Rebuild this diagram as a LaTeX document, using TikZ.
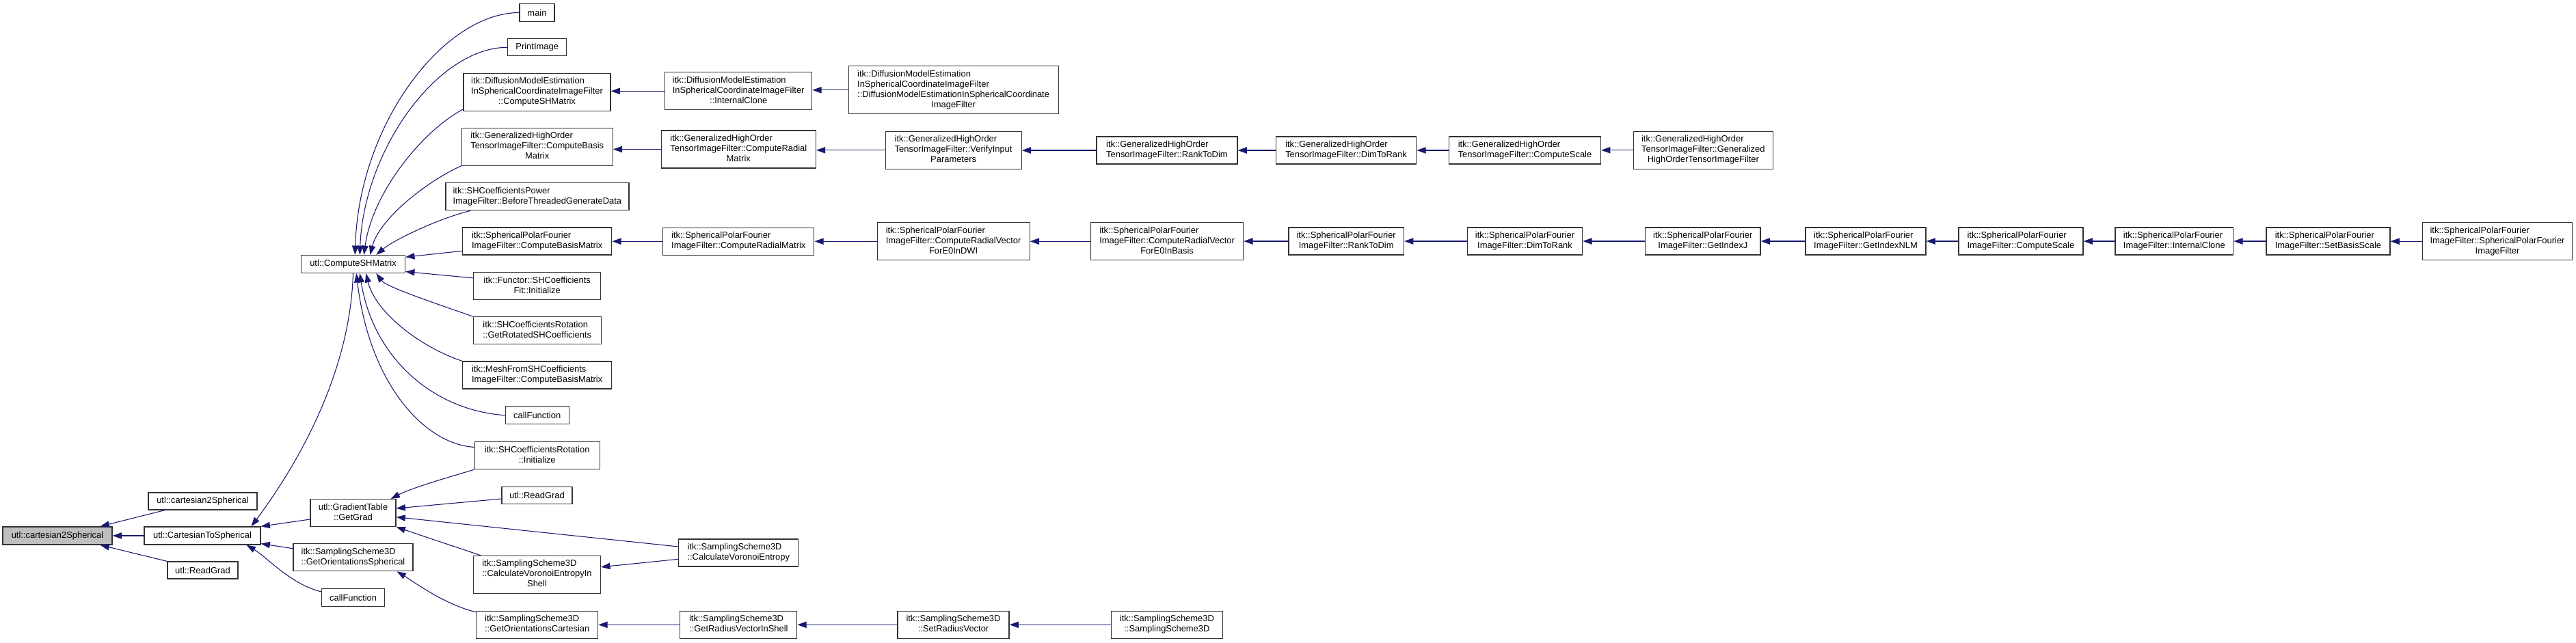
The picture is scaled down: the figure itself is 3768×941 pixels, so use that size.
\documentclass[tikz,border=0pt]{standalone}
\usepackage{fontspec}
\setmainfont{Liberation Sans}
\usetikzlibrary{arrows.meta,calc}
\definecolor{edgec}{RGB}{25,25,112}
\definecolor{rootfill}{RGB}{191,191,191}
\newcommand{\dlab}[2]{\begin{tabular}{@{}l@{}}#1\\\multicolumn{1}{@{}c@{}}{#2}\end{tabular}}
\begin{document}
\begin{tikzpicture}[x=0.75pt,y=-0.75pt,
 fn/.style={draw=black!80, line width=0.9pt, fill=white, inner sep=0pt, font=\fontsize{9.7}{11.25}\selectfont, text=black},
 bw/.style={minimum width=#1*0.75pt},
 bh/.style={minimum height=#1*0.75pt},
 call/.style={draw=edgec, line width=0.8pt, {Triangle[length=10pt,width=7pt]}-}]
\useasboundingbox (0,0) rectangle (3768,941);
% column 0-2
\node[fn,bw=160,bh=26,fill=rootfill] (root) at (84,784) {utl::cartesian2Spherical};
\node[fn,bw=159,bh=25] (c2s2) at (296.5,733.5) {utl::cartesian2Spherical};
\node[fn,bw=170,bh=26] (c2sph) at (296,784) {utl::CartesianToSpherical};
\node[fn,bw=103,bh=25] (rg1) at (296.5,834.5) {utl::ReadGrad};
\node[fn,bw=152,bh=26] (cs) at (516.5,386.5) {utl::ComputeSHMatrix};
\node[fn,bw=125,bh=40] (gg) at (516.5,750.7) {\dlab{utl::GradientTable}{::GetGrad}};
\node[fn,bw=175,bh=40] (gos) at (516.5,815.7) {\dlab{itk::SamplingScheme3D}{::GetOrientationsSpherical}};
\node[fn,bw=92,bh=26] (cf1) at (516.6,874.5) {callFunction};
% column 3
\node[fn,bw=51,bh=26] (main) at (785.5,18.5) {main};
\node[fn,bw=86,bh=25] (print) at (785.7,69.3) {PrintImage};
\node[fn,bw=215,bh=55] (dmecs) at (785.5,134.8) {\dlab{itk::DiffusionModelEstimation\\InSphericalCoordinateImageFilter}{::ComputeSHMatrix}};
\node[fn,bw=221,bh=55] (ghob) at (785.7,214.7) {\dlab{itk::GeneralizedHighOrder\\TensorImageFilter::ComputeBasis}{Matrix}};
\node[fn,bw=268,bh=40] (shp) at (785.9,287.8) {\dlab{itk::SHCoefficientsPower}{ImageFilter::BeforeThreadedGenerateData}};
\node[fn,bw=218,bh=40] (spfb) at (785.7,353) {\dlab{itk::SphericalPolarFourier}{ImageFilter::ComputeBasisMatrix}};
\node[fn,bw=186,bh=40] (fun) at (785.7,418.5) {\dlab{itk::Functor::SHCoefficients}{Fit::Initialize}};
\node[fn,bw=187,bh=40] (rot) at (785.7,483.7) {\dlab{itk::SHCoefficientsRotation}{::GetRotatedSHCoefficients}};
\node[fn,bw=218,bh=40] (mesh) at (785.7,549) {\dlab{itk::MeshFromSHCoefficients}{ImageFilter::ComputeBasisMatrix}};
\node[fn,bw=93,bh=26] (cf2) at (785.7,607.8) {callFunction};
\node[fn,bw=183,bh=40] (sri) at (785.7,666.7) {\dlab{itk::SHCoefficientsRotation}{::Initialize}};
\node[fn,bw=103,bh=25] (rg2) at (785.5,725) {utl::ReadGrad};
\node[fn,bw=186,bh=55] (cvis) at (785.5,840.8) {\dlab{itk::SamplingScheme3D\\::CalculateVoronoiEntropyIn}{Shell}};
\node[fn,bw=178,bh=40] (goc) at (785.7,914.3) {\dlab{itk::SamplingScheme3D}{::GetOrientationsCartesian}};
% column 4
\node[fn,bw=215,bh=55] (dmeic) at (1080.2,133.3) {\dlab{itk::DiffusionModelEstimation\\InSphericalCoordinateImageFilter}{::InternalClone}};
\node[fn,bw=226,bh=55] (ghor) at (1080.3,218.5) {\dlab{itk::GeneralizedHighOrder\\TensorImageFilter::ComputeRadial}{Matrix}};
\node[fn,bw=221,bh=40] (spfr) at (1080.3,353.2) {\dlab{itk::SphericalPolarFourier}{ImageFilter::ComputeRadialMatrix}};
\node[fn,bw=175,bh=40] (cv) at (1080.3,809) {\dlab{itk::SamplingScheme3D}{::CalculateVoronoiEntropy}};
\node[fn,bw=171,bh=40] (grvs) at (1080.3,914.3) {\dlab{itk::SamplingScheme3D}{::GetRadiusVectorInShell}};
% column 5
\node[fn,bw=307,bh=70] (dmector) at (1394.6,131.8) {\dlab{itk::DiffusionModelEstimation\\InSphericalCoordinateImageFilter\\::DiffusionModelEstimationInSphericalCoordinate}{ImageFilter}};
\node[fn,bw=199,bh=55] (vip) at (1394.6,219.8) {\dlab{itk::GeneralizedHighOrder\\TensorImageFilter::VerifyInput}{Parameters}};
\node[fn,bw=223,bh=55] (spfdwi) at (1394.6,353.2) {\dlab{itk::SphericalPolarFourier\\ImageFilter::ComputeRadialVector}{ForE0InDWI}};
\node[fn,bw=163,bh=40] (srv) at (1394.5,914.3) {\dlab{itk::SamplingScheme3D}{::SetRadiusVector}};
% column 6
\node[fn,bw=206,bh=40] (ghortd) at (1706.9,220) {\dlab{itk::GeneralizedHighOrder}{TensorImageFilter::RankToDim}};
\node[fn,bw=223,bh=55] (spfbasis) at (1707.1,353.2) {\dlab{itk::SphericalPolarFourier\\ImageFilter::ComputeRadialVector}{ForE0InBasis}};
\node[fn,bw=163,bh=40] (ss3d) at (1706.9,914.3) {\dlab{itk::SamplingScheme3D}{::SamplingScheme3D}};
% column 7
\node[fn,bw=205.5,bh=40] (ghodtr) at (1969,220) {\dlab{itk::GeneralizedHighOrder}{TensorImageFilter::DimToRank}};
\node[fn,bw=168.4,bh=40] (spfrtd) at (1969.2,353) {\dlab{itk::SphericalPolarFourier}{ImageFilter::RankToDim}};
% column 8
\node[fn,bw=222,bh=40] (ghocs) at (2230.5,220) {\dlab{itk::GeneralizedHighOrder}{TensorImageFilter::ComputeScale}};
\node[fn,bw=168.3,bh=40] (spfdtr) at (2230.5,353) {\dlab{itk::SphericalPolarFourier}{ImageFilter::DimToRank}};
% column 9
\node[fn,bw=204,bh=55] (ghoctor) at (2491.3,219.8) {\dlab{itk::GeneralizedHighOrder\\TensorImageFilter::Generalized}{HighOrderTensorImageFilter}};
\node[fn,bw=168.3,bh=40] (spfj) at (2490.8,353) {\dlab{itk::SphericalPolarFourier}{ImageFilter::GetIndexJ}};
% columns 10-14
\node[fn,bw=176,bh=40] (spfnlm) at (2729,353) {\dlab{itk::SphericalPolarFourier}{ImageFilter::GetIndexNLM}};
\node[fn,bw=182,bh=40] (spfcs) at (2955.9,353) {\dlab{itk::SphericalPolarFourier}{ImageFilter::ComputeScale}};
\node[fn,bw=172.6,bh=40] (spfic) at (3180.3,353) {\dlab{itk::SphericalPolarFourier}{ImageFilter::InternalClone}};
\node[fn,bw=181,bh=40] (spfsbs) at (3405.4,353) {\dlab{itk::SphericalPolarFourier}{ImageFilter::SetBasisScale}};
\node[fn,bw=219,bh=55] (spfctor) at (3653,353.2) {\dlab{itk::SphericalPolarFourier\\ImageFilter::SphericalPolarFourier}{ImageFilter}};

% edges into root
\draw[call] ($(root.north east)+(-18,0)$) -- ($(c2s2.south west)+(24.6,0)$);
\draw[call] (root.east) -- (c2sph.west);
\draw[call] ($(root.south east)+(-18,0)$) -- (rg1.north west);
% edges into CartesianToSpherical
\draw[call] ($(c2sph.north east)+(-14,0)$) .. controls (420,700) and (512,560) .. (cs.south);
\draw[call] (c2sph.north east) -- ($(gg.west)+(0,9.3)$);
\draw[call] ($(c2sph.south east)+(0,-2)$) -- ($(gos.north west)+(0,7.6)$);
\draw[call] ($(c2sph.south east)+(-21,0)$) .. controls (390,815) and (425,855) .. ($(cf1.west)+(0,-8.5)$);
% edges into ComputeSHMatrix
\draw[call] ($(cs.north west)+(79.4,0)$) .. controls (525,180) and (650,18.5) .. (main.west);
\draw[call] ($(cs.north west)+(86.4,0)$) .. controls (532,220) and (640,69.3) .. (print.west);
\draw[call] ($(cs.north west)+(92.4,0)$) .. controls (545,280) and (620,190) .. ($(dmecs.south west)+(0,-3)$);
\draw[call] ($(cs.north west)+(101.4,0)$) .. controls (555,320) and (625,265) .. (ghob.south west);
\draw[call] ($(cs.north west)+(110.4,0)$) .. controls (575,352) and (640,320) .. ($(shp.south west)+(37,0)$);
\draw[call] ($(cs.north east)+(0,3.3)$) -- ($(spfb.south west)+(0,-6.3)$);
\draw[call] ($(cs.south east)+(0,-2.6)$) -- ($(fun.north west)+(0,9)$);
\draw[call] ($(cs.south west)+(110.4,0)$) .. controls (565,420) and (640,445) .. (rot.north west);
\draw[call] ($(cs.south west)+(95.4,0)$) .. controls (550,460) and (620,510) .. (mesh.north west);
\draw[call] ($(cs.south west)+(86.4,0)$) .. controls (545,520) and (630,600) .. (cf2.west);
\draw[call] ($(cs.south west)+(81.4,0)$) .. controls (540,560) and (620,650) .. ($(sri.north west)+(0,8.3)$);
% edges into GetGrad
\draw[call] ($(gg.north east)+(-8,0)$) .. controls (600,715) and (650,700) .. (sri.south west);
\draw[call] ($(gg.east)+(0,-6.7)$) -- ($(rg2.west)+(0,5)$);
\draw[call] ($(gg.east)+(0,6)$) -- ($(cv.west)+(0,-9)$);
\draw[call] (gg.south east) -- ($(cvis.north west)+(11,0)$);
\draw[call] ($(cvis.east)+(0,-11)$) -- ($(cv.west)+(0,9.3)$);
% GetOrientationsSpherical
\draw[call] ($(gos.south east)+(-24,0)$) .. controls (600,848) and (650,885) .. ($(goc.north west)+(0,2)$);
% horizontal chains
\draw[call] (dmeic.west -| dmecs.east) -- (dmeic.west);
\draw[call] (dmector.west -| dmeic.east) -- (dmector.west);
\draw[call] (ghor.west -| ghob.east) -- (ghor.west);
\draw[call] (vip.west -| ghor.east) -- (vip.west);
\draw[call] (ghortd.west -| vip.east) -- (ghortd.west);
\draw[call] (ghodtr.west -| ghortd.east) -- (ghodtr.west);
\draw[call] (ghocs.west -| ghodtr.east) -- (ghocs.west);
\draw[call] (ghoctor.west -| ghocs.east) -- (ghoctor.west);
\draw[call] (spfr.west -| spfb.east) -- (spfr.west);
\draw[call] (spfdwi.west -| spfr.east) -- (spfdwi.west);
\draw[call] (spfbasis.west -| spfdwi.east) -- (spfbasis.west);
\draw[call] (spfrtd.west -| spfbasis.east) -- (spfrtd.west);
\draw[call] (spfdtr.west -| spfrtd.east) -- (spfdtr.west);
\draw[call] (spfj.west -| spfdtr.east) -- (spfj.west);
\draw[call] (spfnlm.west -| spfj.east) -- (spfnlm.west);
\draw[call] (spfcs.west -| spfnlm.east) -- (spfcs.west);
\draw[call] (spfic.west -| spfcs.east) -- (spfic.west);
\draw[call] (spfsbs.west -| spfic.east) -- (spfsbs.west);
\draw[call] (spfctor.west -| spfsbs.east) -- (spfctor.west);
\draw[call] (grvs.west -| goc.east) -- (grvs.west);
\draw[call] (srv.west -| grvs.east) -- (srv.west);
\draw[call] (ss3d.west -| srv.east) -- (ss3d.west);
\end{tikzpicture}
\end{document}
